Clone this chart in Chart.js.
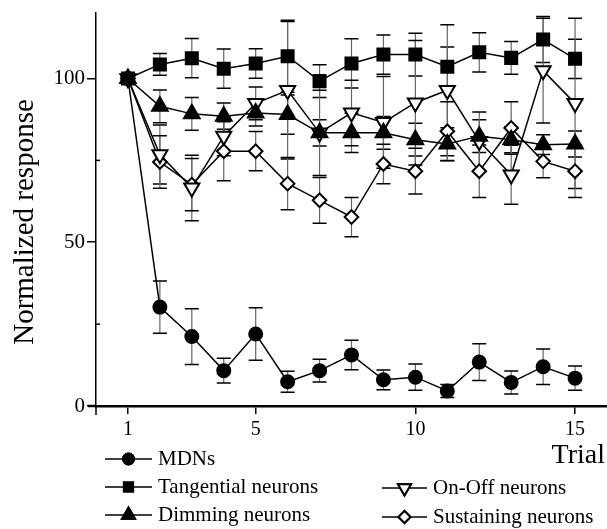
<!DOCTYPE html>
<html>
<head>
<meta charset="utf-8">
<script src="https://cdn.jsdelivr.net/npm/chart.js@4/dist/chart.umd.min.js"></script>
<style>
  body { margin: 0; background: #fff; }
  #wrap { width: 607px; height: 529px; }
</style>
</head>
<body>
<div id="wrap"><canvas id="responseChart" width="607" height="529"></canvas></div>
<script>
// Data
const trials = [1, 2, 3, 4, 5, 6, 7, 8, 9, 10, 11, 12, 13, 14, 15];
const xTicks = [1, 5, 10, 15];
const yTicks = [0, 50, 100];
const yMinorTicks = [25, 75];

const mdns = [100, 30.2, 21.2, 10.8, 22, 7.4, 10.8, 15.6, 8, 8.8, 4.6, 13.4, 7.2, 12, 8.5];
const mdnsErr = [0, 8, 8.5, 3.8, 8, 3.2, 3.5, 4.5, 3, 4, 2, 5.6, 3.5, 5.4, 3.7];

const tangential = [100, 104.3, 106.2, 103, 104.6, 106.8, 99.2, 104.6, 107.3, 107.3, 103.6, 108, 106.3, 111.9, 106];
const tangentialErr = [0, 3.3, 6, 6, 4.5, 11, 5, 7.5, 6, 6.5, 6, 6, 5, 7, 6];

const dimming = [100, 91.5, 89.2, 88.5, 89.5, 89, 83.4, 83.4, 83.4, 81.3, 80, 82.4, 81.3, 79.8, 80];
const dimmingErr = [0, 5, 5, 4, 4, 6, 4, 6, 5, 5, 5, 5, 4, 3, 4];

const onOff = [100, 76.8, 66.6, 82.4, 92.4, 96.4, 83.4, 89.5, 86.6, 92.6, 96.4, 80.8, 70.6, 102.4, 92.4];
const onOffErr = [0, 9, 10, 6, 5, 21, 13, 10, 14, 19, 20, 9, 9, 16, 26];

const sustaining = [100, 74.5, 67.6, 77.8, 77.8, 67.9, 62.8, 57.7, 73.9, 71.7, 83.9, 71.7, 84.9, 74.7, 71.7];
const sustainingErr = [0, 8, 8, 9, 6, 8, 7, 6, 6, 7, 9, 8, 8, 5, 8];

const FONT = "'Liberation Serif', 'Times New Roman', serif";

function toPoints(values) {
    return trials.map((t, i) => ({ x: t, y: values[i] }));
}

function makeSet(label, values, errors, style, radius, fill, rotation) {
    return {
        label: label,
        data: toPoints(values),
        errors: errors,
        borderColor: '#000',
        borderWidth: 1.5,
        pointStyle: style,
        pointRadius: radius,
        pointHoverRadius: radius,
        pointRotation: rotation || 0,
        pointBackgroundColor: fill,
        pointBorderColor: '#000',
        pointBorderWidth: 2,
        fill: false,
        tension: 0,
        clip: false
    };
}

const datasets = [
    makeSet('MDNs', mdns, mdnsErr, 'circle', 6.5, '#000'),
    makeSet('Tangential neurons', tangential, tangentialErr, 'rect', 8.5, '#000'),
    makeSet('Dimming neurons', dimming, dimmingErr, 'triangle', 9, '#000'),
    makeSet('On-Off neurons', onOff, onOffErr, 'triangle', 8.7, '#fff', 180),
    makeSet('Sustaining neurons', sustaining, sustainingErr, 'rectRot', 6.8, '#fff')
];

// Error bars, drawn behind lines and markers
const errorBars = {
    id: 'errorBars',
    beforeDatasetsDraw(chart) {
        const ctx = chart.ctx;
        const xs = chart.scales.x, ys = chart.scales.y;
        ctx.save();
        chart.data.datasets.forEach(ds => {
            ds.data.forEach((p, i) => {
                const e = ds.errors[i];
                if (!e) return;
                const px = xs.getPixelForValue(p.x);
                const top = ys.getPixelForValue(p.y + e);
                const bot = ys.getPixelForValue(p.y - e);
                ctx.strokeStyle = '#666';
                ctx.lineWidth = 1.2;
                ctx.beginPath();
                ctx.moveTo(px, top);
                ctx.lineTo(px, bot);
                ctx.stroke();
                ctx.strokeStyle = '#000';
                ctx.lineWidth = 1.5;
                ctx.beginPath();
                ctx.moveTo(px - 7, top);
                ctx.lineTo(px + 7, top);
                ctx.moveTo(px - 7, bot);
                ctx.lineTo(px + 7, bot);
                ctx.stroke();
            });
        });
        ctx.restore();
    }
};

// Minor ticks, axis stubs, axis titles and the legend below the plot
const decorations = {
    id: 'decorations',
    afterDraw(chart) {
        const ctx = chart.ctx;
        const ys = chart.scales.y;
        const area = chart.chartArea;
        ctx.save();
        ctx.strokeStyle = '#000';
        ctx.lineWidth = 1.5;
        yMinorTicks.forEach(v => {
            const py = ys.getPixelForValue(v);
            ctx.beginPath();
            ctx.moveTo(area.left, py);
            ctx.lineTo(area.left + 4, py);
            ctx.stroke();
        });
        // axes cross a little past the origin
        ctx.beginPath();
        ctx.moveTo(area.left, area.bottom);
        ctx.lineTo(area.left, area.bottom + 9);
        ctx.stroke();
        ctx.lineWidth = 2.5;
        ctx.beginPath();
        ctx.moveTo(area.left - 8, area.bottom);
        ctx.lineTo(area.left, area.bottom);
        ctx.stroke();

        ctx.fillStyle = '#000';
        ctx.textBaseline = 'middle';

        // y title
        ctx.save();
        ctx.translate(25, 222);
        ctx.rotate(-Math.PI / 2);
        ctx.textAlign = 'center';
        ctx.font = '29px ' + FONT;
        ctx.fillText('Normalized response', 0, 0);
        ctx.restore();

        // x title
        ctx.textAlign = 'right';
        ctx.font = '28px ' + FONT;
        ctx.fillText('Trial', 605, 456);

        // legend
        const items = [
            { ds: 0, x: 105, y: 459 },
            { ds: 1, x: 105, y: 487 },
            { ds: 2, x: 105, y: 515 },
            { ds: 3, x: 382, y: 488 },
            { ds: 4, x: 382, y: 517 }
        ];
        const legendRadius = [5.5, 6.5, 7.5, 7.5, 6];
        ctx.textAlign = 'left';
        ctx.font = '21px ' + FONT;
        items.forEach(it => {
            const ds = chart.data.datasets[it.ds];
            const w = it.ds < 3 ? 47 : 45;
            ctx.strokeStyle = '#000';
            ctx.lineWidth = 1.5;
            ctx.beginPath();
            ctx.moveTo(it.x, it.y);
            ctx.lineTo(it.x + w, it.y);
            ctx.stroke();
            ctx.fillStyle = ds.pointBackgroundColor;
            ctx.lineWidth = 2;
            Chart.helpers.drawPoint(ctx, {
                pointStyle: ds.pointStyle,
                radius: legendRadius[it.ds],
                rotation: ds.pointRotation,
                borderWidth: 2
            }, it.x + w / 2, it.y);
            ctx.fill();
            ctx.stroke();
            ctx.fillStyle = '#000';
            ctx.fillText(ds.label, it.x + w + 6, it.y);
        });
        ctx.restore();
    }
};

const ctx = document.getElementById('responseChart').getContext('2d');
new Chart(ctx, {
    type: 'line',
    data: { datasets: datasets },
    plugins: [errorBars, decorations],
    options: {
        responsive: false,
        animation: false,
        layout: {
            autoPadding: false,
            padding: { top: 13, bottom: 83, left: 0, right: 0 }
        },
        plugins: {
            legend: { display: false },
            tooltip: { enabled: false }
        },
        scales: {
            x: {
                type: 'linear',
                min: 0,
                max: 16,
                afterBuildTicks: scale => {
                    scale.ticks = xTicks.map(v => ({ value: v }));
                },
                afterFit: scale => {
                    scale.height = 40;
                    scale.paddingLeft = 0;
                    scale.paddingRight = 0;
                },
                border: { display: true, color: '#000', width: 2.5 },
                grid: { drawOnChartArea: false, drawTicks: true, tickLength: 8, color: '#000', lineWidth: 1.5 },
                ticks: {
                    color: '#000',
                    padding: 4,
                    maxRotation: 0,
                    font: { family: FONT, size: 20 }
                }
            },
            y: {
                min: 0,
                max: 120,
                afterBuildTicks: scale => {
                    scale.ticks = yTicks.map(v => ({ value: v }));
                },
                afterFit: scale => {
                    scale.width = 96;
                    scale.paddingTop = 0;
                    scale.paddingBottom = 0;
                },
                border: { display: true, color: '#000', width: 1.5 },
                grid: { drawOnChartArea: false, drawTicks: true, tickLength: 9, color: '#000', lineWidth: 1.5 },
                ticks: {
                    color: '#000',
                    padding: 2,
                    font: { family: FONT, size: 21 }
                }
            }
        }
    }
});
</script>
</body>
</html>
